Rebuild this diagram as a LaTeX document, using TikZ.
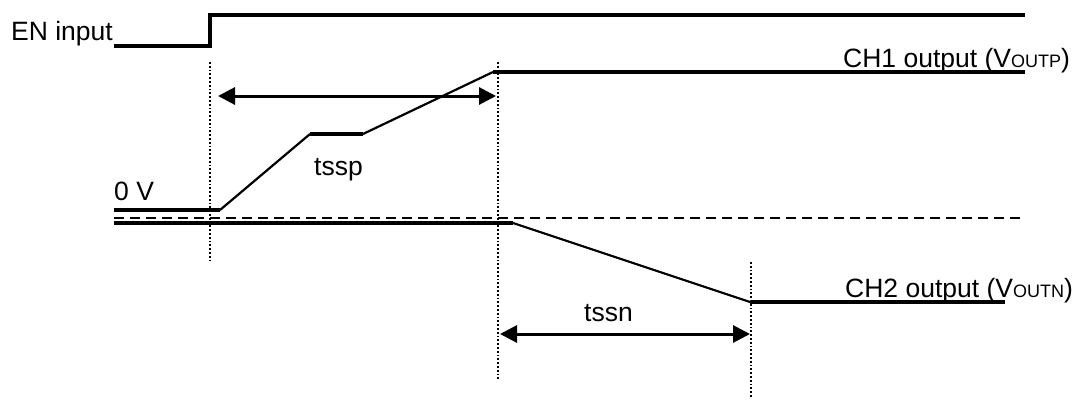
\documentclass[tikz,border=0pt]{standalone}
\usepackage{fontspec}
\setmainfont{Liberation Sans}
\usetikzlibrary{arrows.meta}
\tikzstyle{level}=[
    line width = 3.3pt
]
\tikzstyle{ramp}=[
    line width = 2.2pt
]
\tikzstyle{marker}=[
    dotted,
    line width = 1.8pt
]
\tikzstyle{span}=[
    line width = 3pt,
    {Triangle[length=17pt,width=17pt]}-{Triangle[length=17pt,width=17pt]}
]
\tikzstyle{lbl}=[
    inner sep = 0pt,
    anchor = base west,
    font = \fontsize{26.5}{30}\selectfont
]
\newcommand{\smallcaps}[1]{{\fontsize{18}{20}\selectfont #1}}

\begin{document}
\begin{tikzpicture}[x=1pt, y=-1pt]
        \useasboundingbox (0,0) rectangle (1079,399);

        % labels
        \node[lbl] (en) at (11,40) {EN input};
        \node[lbl] (zero) at (114,200) {0 V};
        \node[lbl] (tssp) at (314,175) {tssp};
        \node[lbl] (tssn) at (584,321) {tssn};
        \node[lbl] (ch1) at (843,67) {CH1 output (V\smallcaps{OUTP})};
        \node[lbl] (ch2) at (845,297) {CH2 output (V\smallcaps{OUTN})};

        % EN input
        \coordinate (e0) at (114,46);
        \coordinate (e1) at (210,46);
        \coordinate (e2) at (210,15);
        \coordinate (e3) at (1025,15);
        \draw[level, line join=miter] (e0) -- (e1) -- (e2) -- (e3);

        % CH1 output
        \coordinate (p0) at (114,210);
        \coordinate (p1) at (220,210);
        \coordinate (p2) at (310,134);
        \coordinate (p3) at (363,134);
        \coordinate (p4) at (493,72);
        \coordinate (p5) at (1025,72);
        \draw[level] (p0) -- (p1);
        \draw[ramp] (p1) -- (p2);
        \draw[level] (p2) -- (p3);
        \draw[ramp] (p3) -- (p4);
        \draw[level] (p4) -- (p5);

        % zero line
        \coordinate (z0) at (114,218);
        \coordinate (z1) at (1025,218);
        \draw[line width=2pt, dash pattern=on 10pt off 6pt] (z0) -- (z1);

        % CH2 output
        \coordinate (n0) at (114,223);
        \coordinate (n1) at (513,223);
        \coordinate (n2) at (750,302);
        \coordinate (n3) at (1005,302);
        \draw[level] (n0) -- (n1);
        \draw[ramp] (n1) -- (n2);
        \draw[level] (n2) -- (n3);

        % time markers
        \coordinate (m1a) at (210,62);
        \coordinate (m1b) at (210,262);
        \coordinate (m2a) at (498,62);
        \coordinate (m2b) at (498,380);
        \coordinate (m3a) at (751,262);
        \coordinate (m3b) at (751,398);
        \draw[marker] (m1a) -- (m1b);
        \draw[marker] (m2a) -- (m2b);
        \draw[marker] (m3a) -- (m3b);

        % soft-start spans
        \coordinate (sp0) at (218,96);
        \coordinate (sp1) at (496,96);
        \coordinate (sn0) at (500,334);
        \coordinate (sn1) at (750,334);
        \draw[span] (sp0) -- (sp1);
        \draw[span] (sn0) -- (sn1);

    \end{tikzpicture}
\end{document}
